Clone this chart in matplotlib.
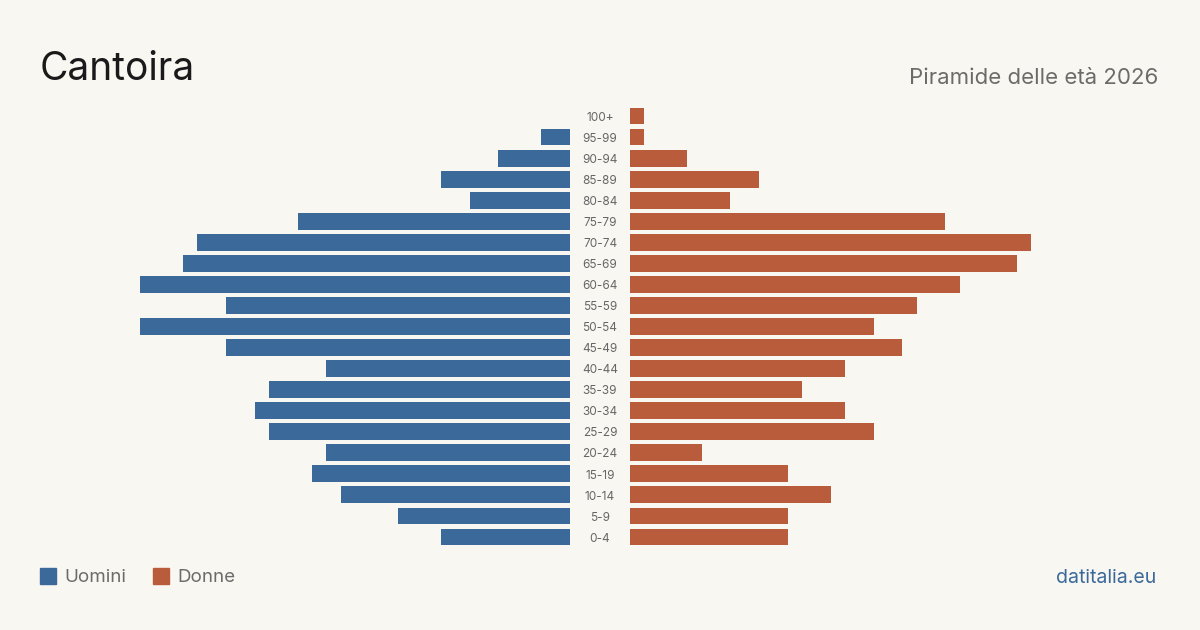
import matplotlib.pyplot as plt
from matplotlib.patches import Rectangle

plt.rcParams['font.family'] = ['Inter', 'DejaVu Sans']

# Data (top to bottom in the picture)
age_groups = ['100+', '95-99', '90-94', '85-89', '80-84', '75-79', '70-74', '65-69',
              '60-64', '55-59', '50-54', '45-49', '40-44', '35-39', '30-34', '25-29',
              '20-24', '15-19', '10-14', '5-9', '0-4']
men = [0, 2, 5, 9, 7, 19, 26, 27, 30, 24, 30, 24, 17, 21, 22, 21, 17, 18, 16, 12, 9]
women = [1, 1, 4, 9, 7, 22, 28, 27, 23, 20, 17, 19, 15, 12, 15, 17, 5, 11, 14, 11, 11]

bg = '#f9f7f2'
blue = '#3b6a9a'
orange = '#b95c3c'

W, H = 1200, 630
fig = plt.figure(figsize=(12, 6.3), dpi=100, facecolor=bg)

ypos = list(range(len(age_groups) - 1, -1, -1))
xmax = 30
ax_bottom = 1 - 547.5 / H
ax_height = 442 / H

axL = fig.add_axes([140 / W, ax_bottom, 430 / W, ax_height])
axR = fig.add_axes([630 / W, ax_bottom, 430 / W, ax_height])

axL.barh(ypos, men, height=0.8, color=blue)
axL.set_xlim(xmax, 0)
axR.barh(ypos, women, height=0.8, color=orange)
axR.set_xlim(0, xmax)

for ax in (axL, axR):
    ax.set_ylim(-0.5, len(age_groups) - 0.5)
    ax.axis('off')
    ax.set_facecolor('none')

for label, y in zip(age_groups, ypos):
    axR.text(-30 / 14.33, y - 0.08, label, ha='center', va='center', fontsize=8.5,
             color='#666666', clip_on=False)

fig.text(40 / W, 1 - 69 / H, 'Cantoira', fontsize=28, color='#1a1a1a',
         ha='left', va='center')
fig.text(1158 / W, 1 - 78 / H, 'Piramide delle età 2026', fontsize=16,
         color='#6b6b6b', ha='right', va='center')

# legend
fig.patches.append(Rectangle((40 / W, 1 - 584 / H), 16 / W, 16 / H,
                             transform=fig.transFigure, color=blue))
fig.text(64 / W, 1 - 578 / H, 'Uomini', fontsize=13.5, color='#6b6b6b',
         ha='left', va='center')
fig.patches.append(Rectangle((153 / W, 1 - 584 / H), 16 / W, 16 / H,
                             transform=fig.transFigure, color=orange))
fig.text(177 / W, 1 - 578 / H, 'Donne', fontsize=13.5, color='#6b6b6b',
         ha='left', va='center')

fig.text(1156 / W, 1 - 578 / H, 'datitalia.eu', fontsize=14, color=blue,
         ha='right', va='center')

fig.savefig('out.png', dpi=100, facecolor=bg)
